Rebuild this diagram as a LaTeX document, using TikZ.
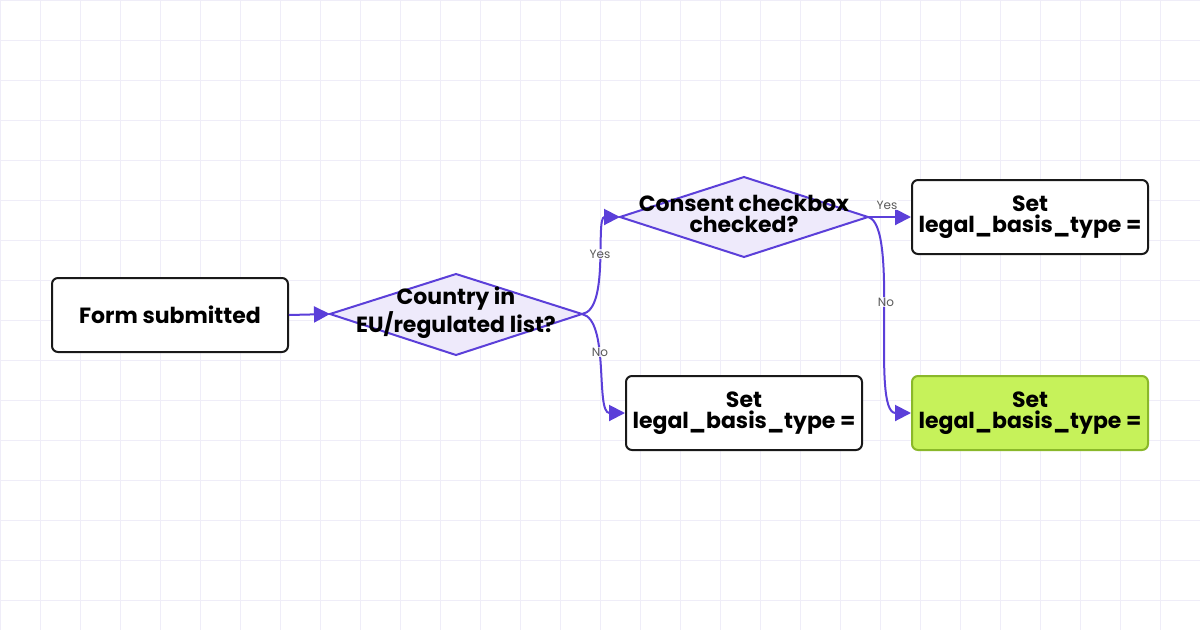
\documentclass[tikz,border=0pt]{standalone}
\usepackage{fontspec}
\setmainfont{Poppins}
\usetikzlibrary{shapes.geometric,arrows.meta}
\definecolor{pur}{HTML}{5B3FD9}
\definecolor{dfill}{HTML}{EEEAFB}
\definecolor{grn}{HTML}{C6F25A}
\definecolor{grnb}{HTML}{8AB82A}
\definecolor{gridc}{HTML}{EFEDF8}
\begin{document}
\begin{tikzpicture}[x=1pt,y=-1pt,
  box/.style={draw=black!90,line width=2pt,rounded corners=6pt,fill=white,minimum width=236pt,minimum height=74pt,align=center,font=\bfseries\fontsize{22}{21}\selectfont,inner sep=0pt},
  dtext/.style={font=\bfseries\fontsize{22}{21}\selectfont,align=center},
  arr/.style={draw=pur,line width=2pt,-{Triangle[length=16pt,width=16pt]}},
  lab/.style={text=black!65,font=\fontsize{12}{12}\selectfont,fill=white,fill opacity=0.8,text opacity=1,inner sep=1pt}]
\useasboundingbox (0,0) rectangle (1200,630);
\fill[white] (0,0) rectangle (1200,630);
\foreach \x in {0,40,...,1200} \draw[gridc,line width=0.8pt] (\x,0) -- (\x,630);
\foreach \y in {0,40,...,630} \draw[gridc,line width=0.8pt] (0,\y) -- (1200,\y);
\node[box] (a) at (170,315) {Form submitted};
\path[draw=pur,line width=2pt,fill=dfill] (330,314) -- (456,274) -- (582,314) -- (456,355) -- cycle;
\node[dtext] (d1) at (456,313) {Country in\\EU/regulated list?};
\coordinate (d1w) at (330,314); \coordinate (d1e) at (582,314);
\path[draw=pur,line width=2pt,fill=dfill] (620,217) -- (744,177) -- (868,217) -- (744,257) -- cycle;
\node[dtext] (d2) at (744,214) {Consent checkbox\\checked?};
\coordinate (d2w) at (620,217); \coordinate (d2e) at (868,217);
\node[box] (y) at (1030,217) {Set\\legal\_basis\_type =};
\node[box] (n) at (744,413) {Set\\legal\_basis\_type =};
\node[box,fill=grn,draw=grnb] (g) at (1030,413) {Set\\legal\_basis\_type =};
\draw[arr] (a.east) -- (d1w);
\draw[arr] (d1e) .. controls (610,310) and (595,217) .. (d2w);
\draw[arr] (d1e) .. controls (610,320) and (595,413) .. (n.west);
\draw[arr] (d2e) -- (y.west);
\draw[arr] (d2e) .. controls (900,225) and (870,413) .. (g.west);
\node[lab] at (600,254) {Yes};
\node[lab] at (600,352) {No};
\node[lab] at (887,205) {Yes};
\node[lab] at (886,302) {No};
\end{tikzpicture}
\end{document}
